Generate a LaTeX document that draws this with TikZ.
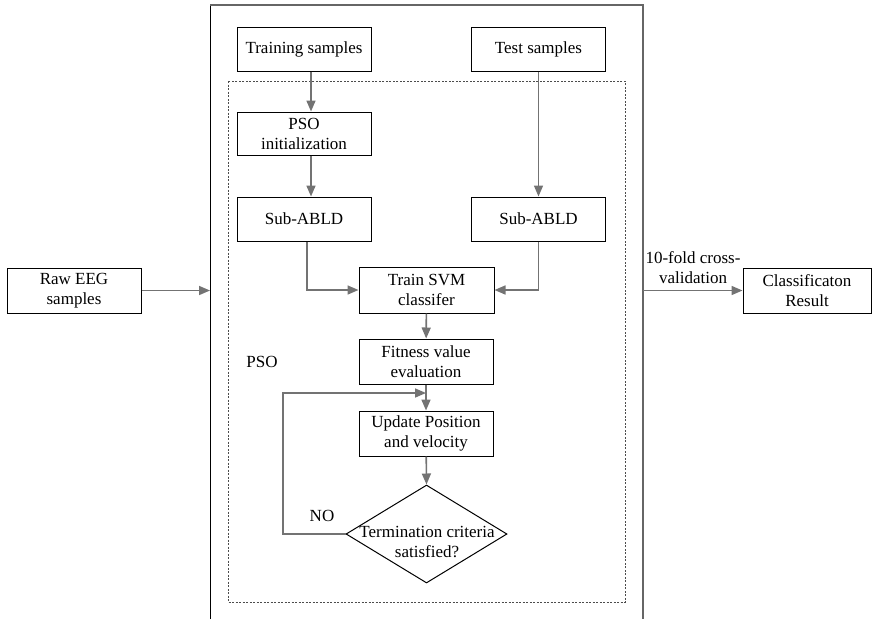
\documentclass[tikz,border=0pt]{standalone}
\usepackage{fontspec}
\setmainfont{Liberation Serif}
\usetikzlibrary{arrows.meta,shapes.geometric}

\begin{document}
\begin{tikzpicture}[x=1pt,y=-1pt,
    every node/.style={font=\fontsize{17}{20}\selectfont, align=center},
    box/.style={draw, line width=1pt, minimum width=134pt, minimum height=44pt, inner sep=0pt},
    decision/.style={diamond, draw, line width=1pt, minimum width=161pt, minimum height=98pt, inner sep=0pt},
    flow/.style={draw=black!55, line width=1.6pt, -{Triangle[length=11pt,width=9pt]}}]
    \useasboundingbox (0,0) rectangle (873,619);

    % Cornice esterna e area PSO
    \draw[line width=0.9pt] (210,619) -- (210,5);
    \draw[line width=1.2pt, black!60] (210,5) -- (643,5) -- (643,619);
    \draw[black!70, line width=1pt, dash pattern=on 2pt off 1.5pt] (228,81) rectangle (625,602);

    % Ingresso e uscita
    \node[box, minimum height=45pt] (raw) at (74,290.5) {Raw EEG\\samples};
    \node[box, minimum width=128pt, minimum height=45pt] (res) at (807,290.5) {Classificaton\\Result};
    \coordinate (inL) at (210,290.5);
    \coordinate (outR) at (643,290.5);

    % Campioni
    \node[box] (train) at (304,49) {Training samples};
    \node[box] (test) at (538.5,49) {Test samples};

    % Ramo sinistro e destro
    \node[box, minimum height=43pt] (init) at (304,133.5) {PSO\\initialization};
    \node[box] (subl) at (304,219) {Sub-ABLD};
    \node[box] (subr) at (538.5,219) {Sub-ABLD};

    % Catena centrale
    \node[box, minimum width=135pt, minimum height=46pt] (svm) at (426.5,290) {Train SVM\\classifer};
    \node[box, minimum height=45pt] (fit) at (426,361.5) {Fitness value\\evaluation};
    \node[box, minimum height=45pt] (upd) at (426,433.5) {Update Position\\and velocity};
    \node[decision] (term) at (426.5,534) {};
    \node (termtxt) at (427,542) {Termination criteria\\satisfied?};
    \coordinate (loop) at (283,393);

    % Etichette
    \node (pso) at (262,362) {PSO};
    \node (no) at (322,516) {NO};
    \node (cv) at (693,267.5) {10-fold cross-\\validation};

    % Collegamenti
    \draw[flow] (raw) -- (inL);
    \draw[flow] (outR) -- (res);
    \draw[flow] ([xshift=7pt]train.south) -- ([xshift=7pt]init.north);
    \draw[flow] ([xshift=7pt]init.south) -- ([xshift=7pt]subl.north);
    \draw[flow] (test) -- (subr);
    \draw[flow] ([xshift=3pt]subl.south) |- (svm.west);
    \draw[flow] (subr.south) |- (svm.east);
    \draw[flow] (svm) -- (fit);
    \draw[flow] (fit) -- (upd);
    \draw[flow] (upd) -- (term.north);
    \draw[flow] (term.west) -| (loop) -- (loop -| upd.north);
\end{tikzpicture}
\end{document}
